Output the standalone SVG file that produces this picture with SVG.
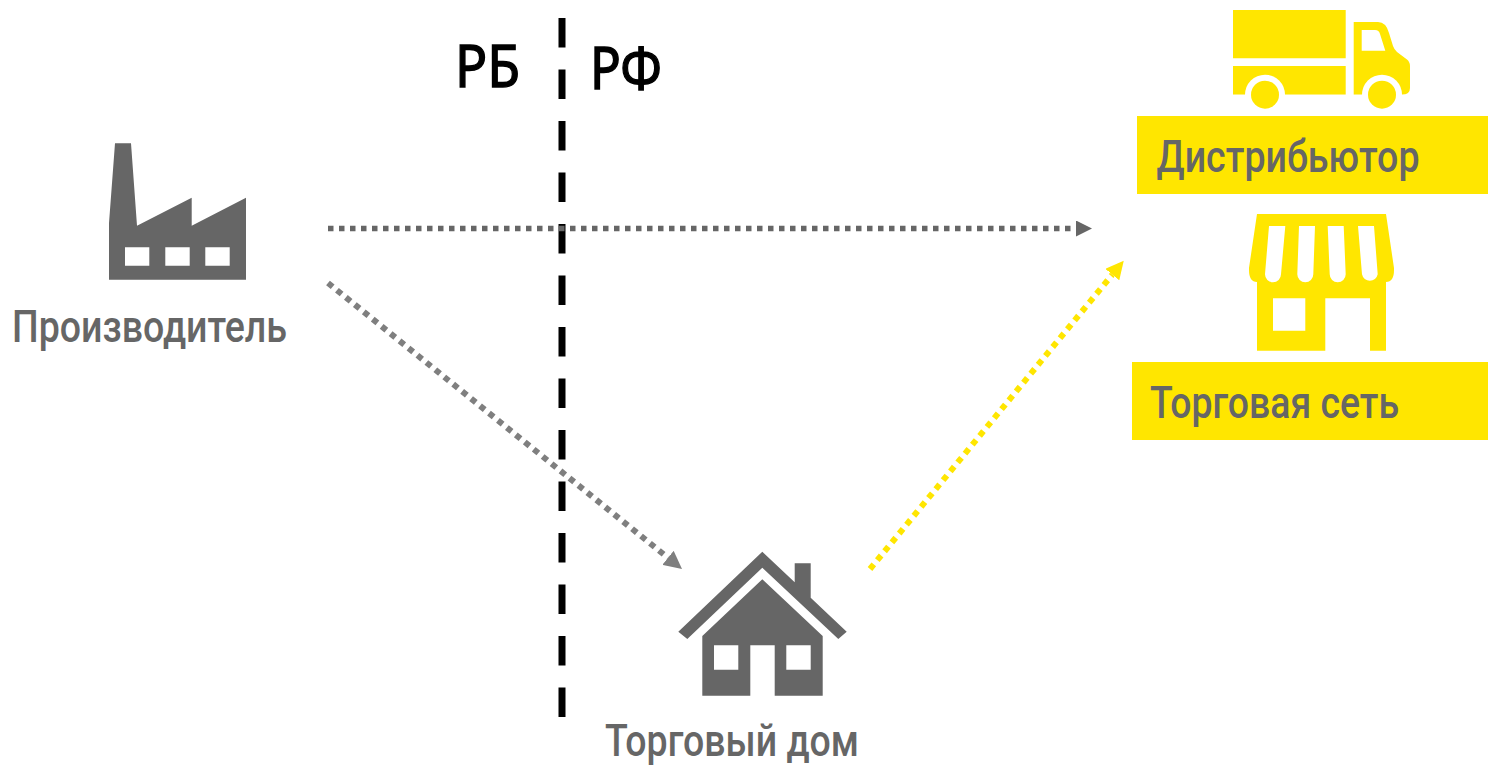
<svg xmlns="http://www.w3.org/2000/svg" width="1488" height="765" viewBox="0 0 1488 765">
<style>
.lbl{font-family:"Roboto","Liberation Sans",sans-serif;font-size:45px;font-weight:500;fill:#666666}
.reg{font-family:"Noto Sans","Open Sans",sans-serif;font-size:59px;fill:#000000;stroke:#000000;stroke-width:1.4px}
.g{fill:#666666}
.y{fill:#FFE600}
.w{fill:#FFFFFF}
.dot{fill:none;stroke-width:5.5;stroke-dasharray:5.5 5.5}
.dg{fill:none;stroke-width:6;stroke-dasharray:6 5.500}
</style>
<defs>
<marker id="ah" markerUnits="userSpaceOnUse" markerWidth="16" markerHeight="16" refX="0" refY="8" orient="auto"><path d="M0 0L16 8L0 16Z" fill="#666666"/></marker>
<marker id="ahg" markerUnits="userSpaceOnUse" markerWidth="18" markerHeight="18" refX="0" refY="9" orient="auto"><path d="M0 0L18 9L0 18Z" fill="#7F7F7F"/></marker>
<marker id="ahy" markerUnits="userSpaceOnUse" markerWidth="18" markerHeight="18" refX="0" refY="9" orient="auto"><path d="M0 0L18 9L0 18Z" fill="#FFE600"/></marker>
</defs>
<rect width="1488" height="765" fill="#FFFFFF"/>
<g id="connectors">
<line x1="562" y1="18" x2="562" y2="717" stroke="#000000" stroke-width="7" stroke-dasharray="29.5 22"/>
<line class="dot" x1="328" y1="228.500" x2="1076" y2="228.500" stroke="#666666" marker-end="url(#ah)"/>
<line class="dg" x1="328" y1="283" x2="668" y2="557.800" stroke="#7F7F7F" marker-end="url(#ahg)"/>
<line class="dg" x1="870" y1="569" x2="1112.300" y2="274.600" stroke="#FFE600" marker-end="url(#ahy)"/>
</g>
<g id="border-labels">
<text class="reg" x="455" y="86.500" textLength="65" lengthAdjust="spacingAndGlyphs">РБ</text>
<text class="reg" x="590" y="89" textLength="72" lengthAdjust="spacingAndGlyphs">РФ</text>
</g>
<g id="producer">
<path class="g" d="M115 143.300H131L137 225.700L191.700 197.700V225.700L246 197.700V279.700H109V223Z"/>
<path class="w" d="M125 247.300h24.300v18.400H125ZM165.300 247.300h24.400v18.400h-24.400ZM205.300 247.300h24.400v18.400h-24.400Z"/>
<text class="lbl" x="12" y="342" textLength="275" lengthAdjust="spacingAndGlyphs">Производитель</text>
</g>
<g id="trading-house">
<path class="g" d="M762.300 551.700L794.700 582.300V563.300H810.700V597.700L846.700 631.700L838.300 639L762.300 567.700L687.300 639L678.300 631.700Z"/>
<path class="g" d="M762.300 579.300L822.700 636V695.700H774.700V645.300H750.300V695.700H702.300V636Z"/>
<path class="w" d="M714 645.300h24.300v24.400H714ZM786.300 645.300h24.400v24.400h-24.400Z"/>
<text class="lbl" x="605" y="755.500" textLength="254" lengthAdjust="spacingAndGlyphs">Торговый дом</text>
</g>
<g id="distributor">
<path class="y" d="M1233 10H1345.700V58.300H1233ZM1233 66H1345.700V94.700H1233Z"/>
<path class="y" d="M1353.700 22H1378Q1386 22 1389 33L1393 46Q1394 49 1397 52L1407 59.500Q1410 62 1410 66V88Q1410 94.700 1402 94.700H1353.700Z"/>
<circle class="w" cx="1265" cy="94.700" r="20"/>
<circle class="w" cx="1382" cy="94.700" r="20"/>
<rect class="w" x="1233" y="94.700" width="180" height="15"/>
<circle class="y" cx="1265" cy="94.700" r="14"/>
<circle class="y" cx="1382" cy="94.700" r="14"/>
<path class="w" d="M1361.700 30H1375Q1379 30 1380 34L1385.300 50.700H1361.700Z"/>
<rect class="y" x="1137" y="116" width="351" height="78"/>
<text class="lbl" x="1156.500" y="172" textLength="263" lengthAdjust="spacingAndGlyphs">Дистрибьютор</text>
</g>
<g id="retail-chain">
<path class="y" d="M1257 214H1386L1394 268V270Q1394 282 1386 282V350.700H1370V298.300H1325.300V350.700H1257V282Q1249 282 1249 270V268Z"/>
<path class="w" d="M1269 226H1285.300L1281 274.300A8 8 0 0 1 1265 274.300ZM1299 226H1315L1313.300 274.300A8 8 0 0 1 1297.300 274.300ZM1327.700 226H1343.700L1345.700 274.300A8 8 0 0 1 1329.700 274.300ZM1358 226H1374L1377.700 274.300A8 8 0 0 1 1362 274.300ZM1273 298.300H1305.300V330.700H1273Z"/>
<rect class="y" x="1132" y="362" width="356" height="78"/>
<text class="lbl" x="1150" y="418" textLength="249" lengthAdjust="spacingAndGlyphs">Торговая сеть</text>
</g>
</svg>
